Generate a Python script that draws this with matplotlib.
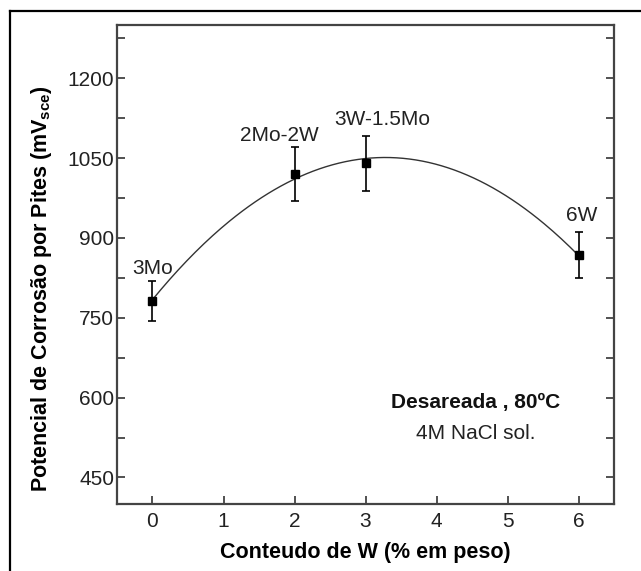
import numpy as np
import matplotlib
matplotlib.use("Agg")
import matplotlib.pyplot as plt
from matplotlib.lines import Line2D
from matplotlib.ticker import MultipleLocator

plt.rcParams["font.family"] = ["Liberation Sans", "DejaVu Sans"]
plt.rcParams["mathtext.fontset"] = "custom"
plt.rcParams["mathtext.rm"] = "Liberation Sans"
plt.rcParams["mathtext.bf"] = "Liberation Sans:bold"

# W content (wt%) and pitting potential (mV_sce)
w_content = [0, 2, 3, 6]
potential = [782, 1020, 1041, 868]
err_low = [38, 50, 52, 43]
err_high = [37, 51, 51, 43]
alloys = ["3Mo", "2Mo-2W", "3W-1.5Mo", "6W"]
label_x = [0.0, 1.79, 3.23, 6.05]
label_y = [842, 1092, 1123, 943]

# quadratic trend through the measured points
coef = np.polyfit(w_content, potential, 2)
xs = np.linspace(0, 6, 200)
ys = np.polyval(coef, xs)

fig = plt.figure(figsize=(6.41, 5.71), dpi=100)
ax = fig.add_axes([0.1825, 0.1173, 0.958 - 0.1825, 0.956 - 0.1173])

ax.plot(xs, ys, color="#333333", lw=1.0)
ax.errorbar(w_content, potential, yerr=[err_low, err_high], fmt="s",
            color="black", ms=6, capsize=3.2, elinewidth=1.2, capthick=1.2)

for name, lx, ly in zip(alloys, label_x, label_y):
    ax.text(lx, ly, name, ha="center", va="center", fontsize=15, color="#222222")

ax.text(0.722, 0.212, "Desareada , 80ºC", transform=ax.transAxes, ha="center",
        va="center", fontsize=15, color="#111111", fontweight="bold")
ax.text(0.722, 0.147, "4M NaCl sol.", transform=ax.transAxes, ha="center",
        va="center", fontsize=15, color="#222222")

ax.set_xlim(-0.5, 6.5)
ax.set_ylim(400, 1300)
ax.xaxis.set_major_locator(MultipleLocator(1))
ax.set_yticks([450, 600, 750, 900, 1050, 1200])
ax.yaxis.set_minor_locator(MultipleLocator(75))
ax.tick_params(axis="x", which="both", direction="in", length=6, width=1.2,
               labelsize=15, pad=6, colors="#333333", labelcolor="#222222")
ax.tick_params(axis="y", which="both", direction="in", left=True, right=True,
               length=6, width=1.2, labelsize=15, pad=2, colors="#333333",
               labelcolor="#222222")
for s in ax.spines.values():
    s.set_color("#444444")
    s.set_linewidth(1.6)

ax.set_xlabel("Conteudo de W (% em peso)", fontsize=15.5, fontweight="bold",
              labelpad=8)
ax.set_ylabel(r"Potencial de Corrosão por Pites (mV$_{\mathbf{sce}}$)",
              fontsize=15.5, fontweight="bold")
ax.yaxis.set_label_coords(-0.127, 0.45)

# page border lines (top and left)
fig.add_artist(Line2D([10 / 641, 1], [1 - 11 / 571, 1 - 11 / 571],
                      transform=fig.transFigure, color="black", lw=1.6))
fig.add_artist(Line2D([10 / 641, 10 / 641], [0, 1 - 11 / 571],
                      transform=fig.transFigure, color="black", lw=1.6))

fig.savefig("out.png", dpi=100)
